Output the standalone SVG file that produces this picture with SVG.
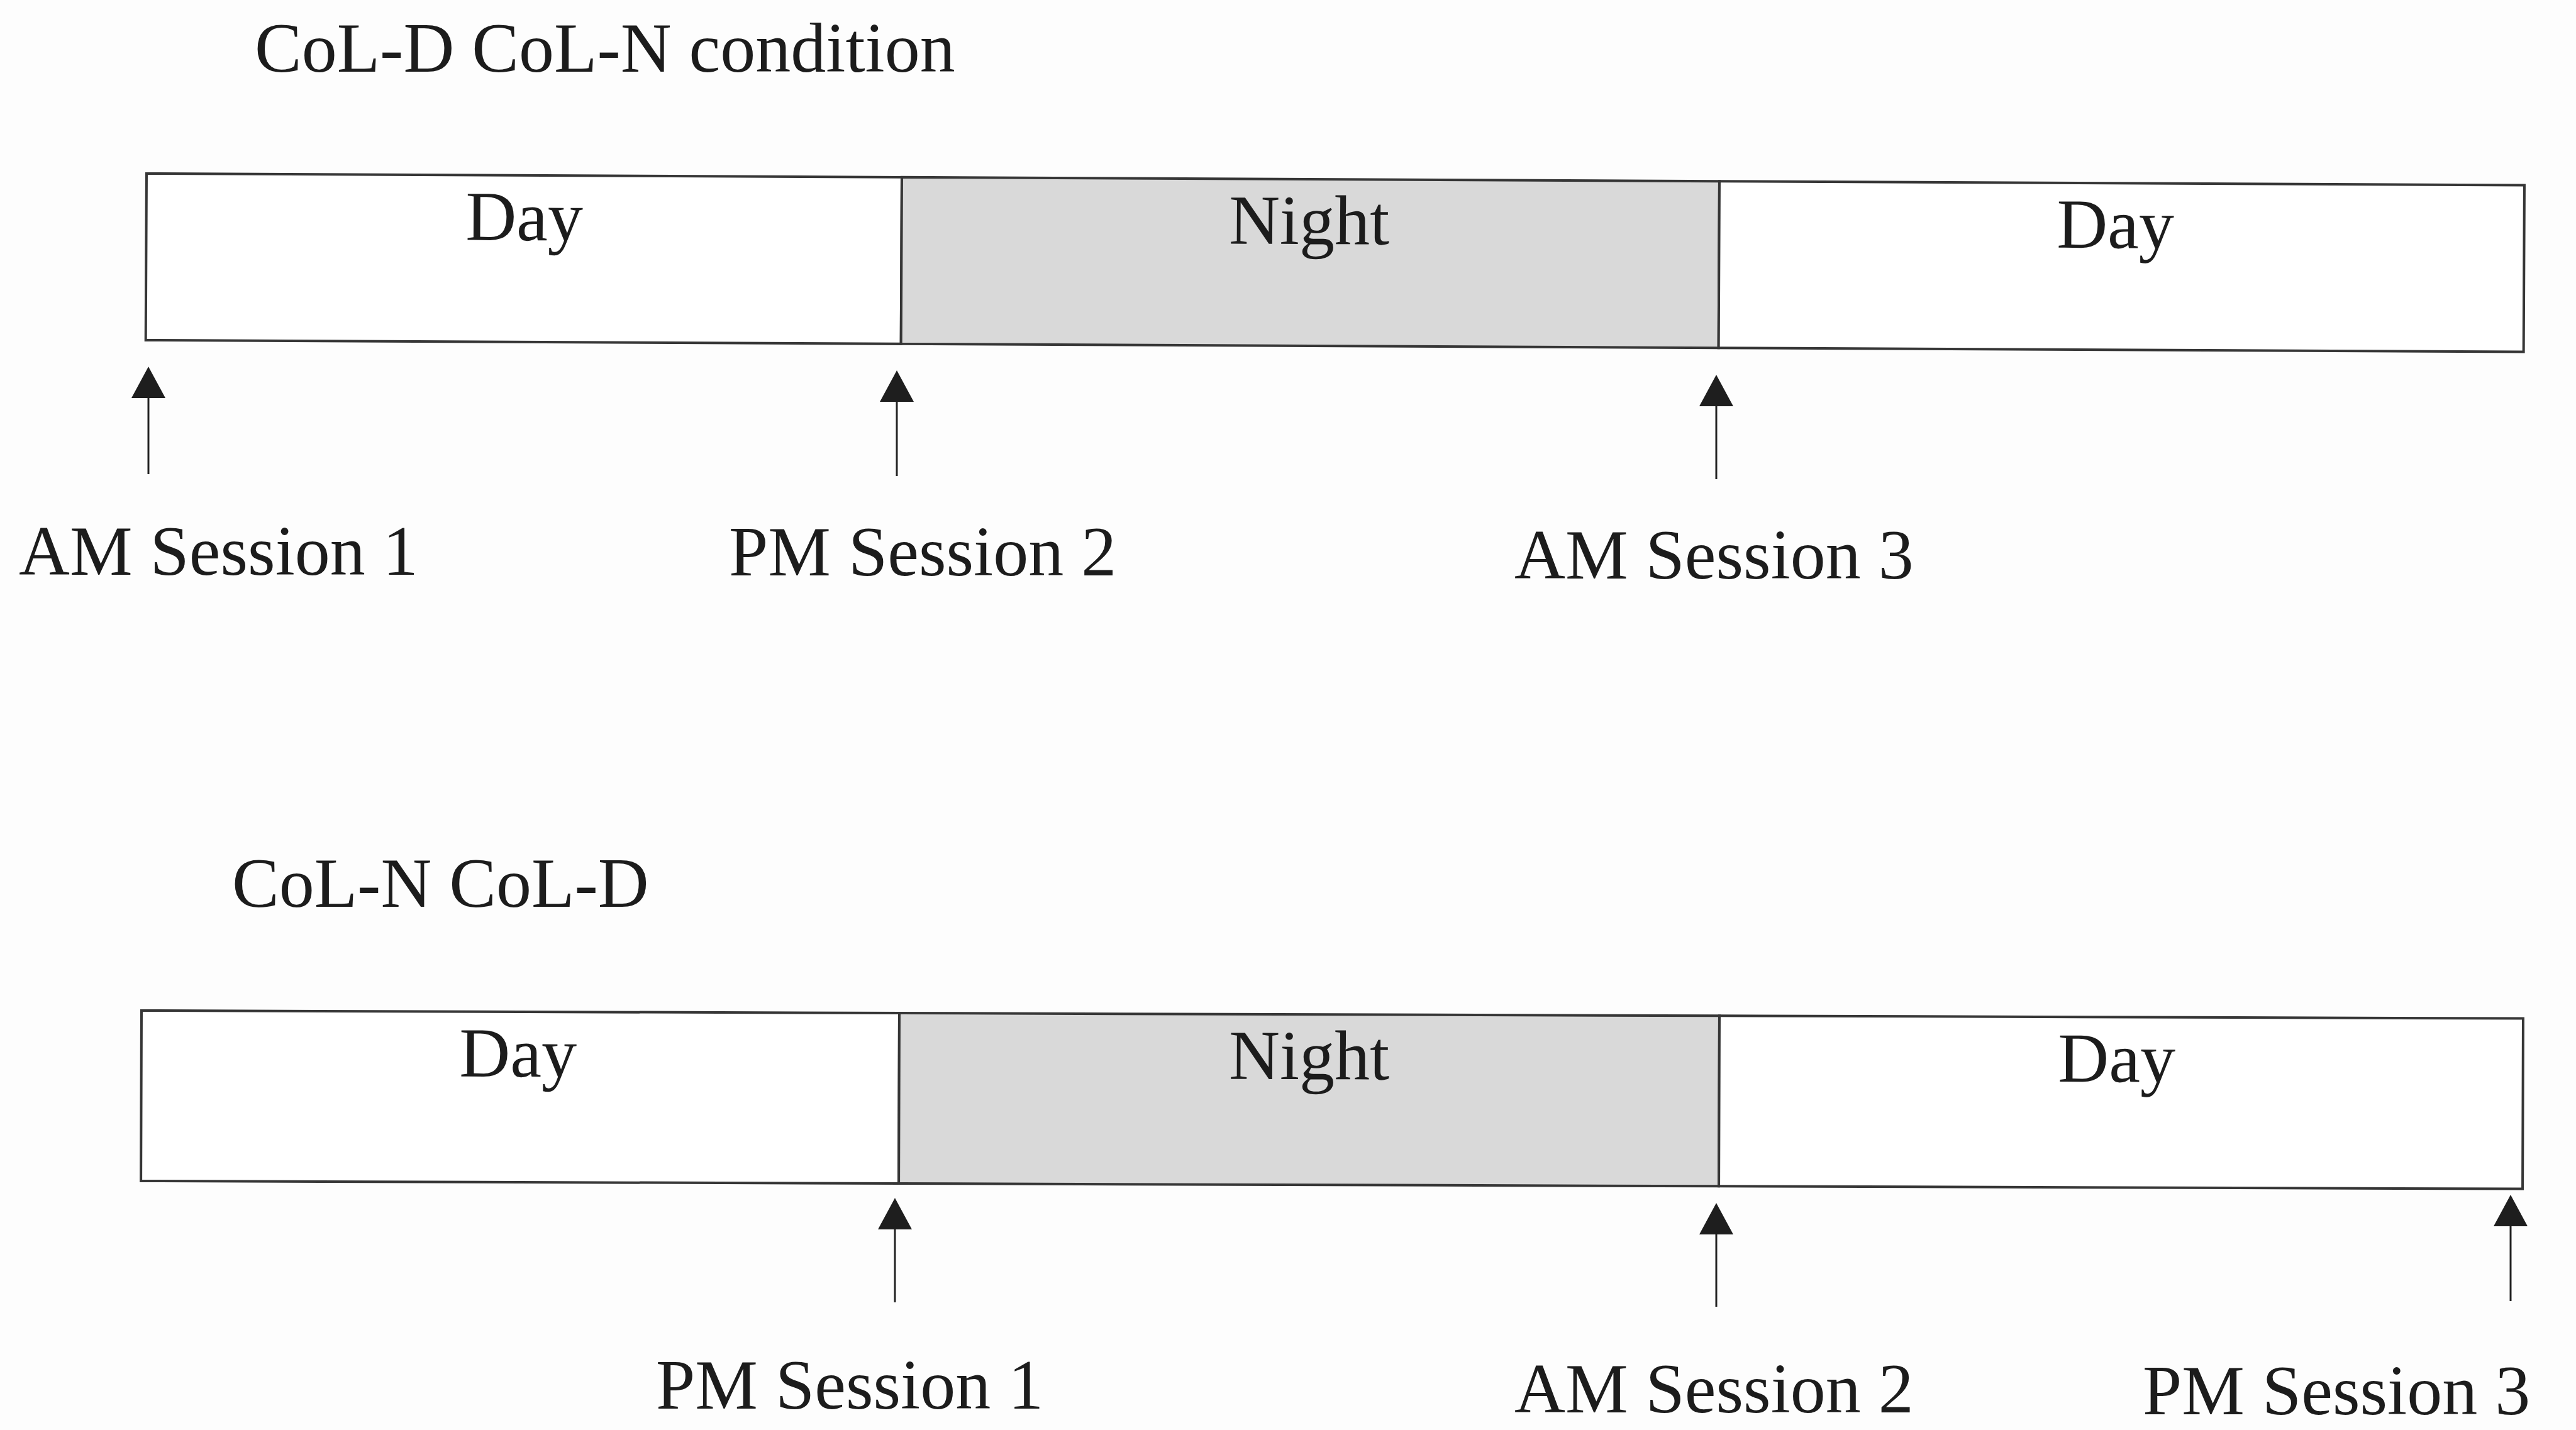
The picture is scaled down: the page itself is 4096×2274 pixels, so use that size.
<svg xmlns="http://www.w3.org/2000/svg" width="4096" height="2274" viewBox="0 0 4096 2274">
  <defs>
    <style>
      .seg{stroke:#363636;stroke-width:4;}
      .day{fill:#ffffff;}
      .night{fill:#d9d9d9;}
      text{font-family:"Liberation Serif","Times New Roman",serif;font-size:112px;fill:#1c1c1c;}
      .mid{text-anchor:middle;}
      .arr{stroke:#222222;stroke-width:3;fill:none;marker-end:url(#head);}
    </style>
    <marker id="head" viewBox="0 0 50 54" refX="0" refY="27" markerWidth="50" markerHeight="54" markerUnits="userSpaceOnUse" orient="auto">
      <path d="M0,0 L50,27 L0,54 Z" fill="#1e1e1e"/>
    </marker>
  </defs>
  <rect x="0" y="0" width="4096" height="2274" fill="#fdfdfd"/>

  <!-- Top timeline -->
  <text id="title-top" x="405" y="114">CoL-D CoL-N condition</text>
  <g id="bar-top" transform="rotate(0.28 233 276)">
    <g id="top-day1"><rect class="seg day" x="233" y="276" width="1201" height="265"/><text class="mid" x="834" y="379">Day</text></g>
    <g id="top-night"><rect class="seg night" x="1434" y="276" width="1300" height="265"/><text class="mid" x="2082" y="379">Night</text></g>
    <g id="top-day2"><rect class="seg day" x="2734" y="276" width="1280" height="265"/><text class="mid" x="3364" y="379">Day</text></g>
  </g>

  <!-- Bottom timeline -->
  <text id="title-bottom" x="369" y="1442">CoL-N CoL-D</text>
  <g id="bar-bottom" transform="rotate(0.19 225 1607)">
    <g id="bot-day1"><rect class="seg day" x="225" y="1607" width="1205" height="271"/><text class="mid" x="824" y="1710">Day</text></g>
    <g id="bot-night"><rect class="seg night" x="1430" y="1607" width="1304" height="271"/><text class="mid" x="2082" y="1710">Night</text></g>
    <g id="bot-day2"><rect class="seg day" x="2734" y="1607" width="1278" height="271"/><text class="mid" x="3366" y="1710">Day</text></g>
  </g>

  <g id="connectors">
    <line class="arr" x1="236" y1="754" x2="236" y2="633"/>
    <line class="arr" x1="1426" y1="757" x2="1426" y2="639"/>
    <line class="arr" x1="2729" y1="762" x2="2729" y2="646"/>
    <line class="arr" x1="1423" y1="2071" x2="1423" y2="1955"/>
    <line class="arr" x1="2729" y1="2078" x2="2729" y2="1963"/>
    <line class="arr" x1="3992" y1="2069" x2="3992" y2="1950"/>
  </g>

  <g id="labels">
    <text id="lbl-am1" x="30" y="914">AM Session 1</text>
    <text id="lbl-pm2" x="1159" y="915">PM Session 2</text>
    <text id="lbl-am3" x="2408" y="920">AM Session 3</text>
    <text id="lbl-pm1" x="1043" y="2240">PM Session 1</text>
    <text id="lbl-am2" x="2408" y="2246">AM Session 2</text>
    <text id="lbl-pm3" x="3407" y="2249">PM Session 3</text>
  </g>
</svg>
